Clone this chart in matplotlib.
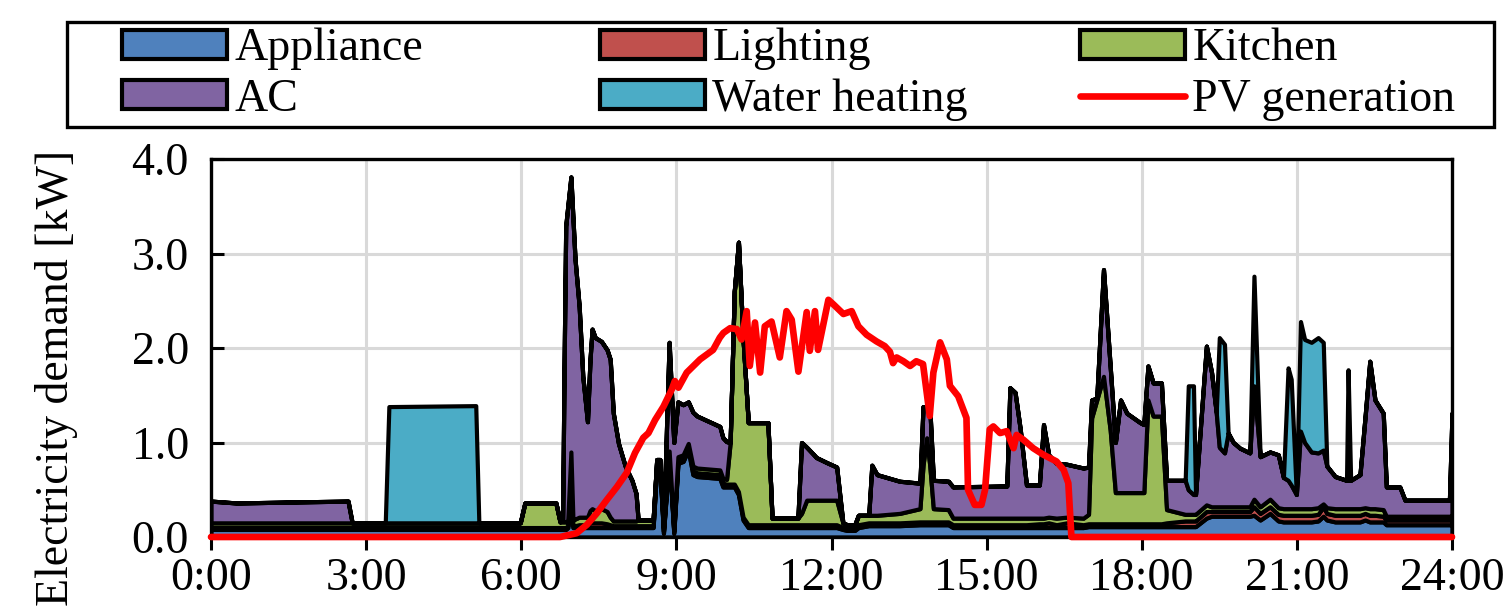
import matplotlib.pyplot as plt
import matplotlib.patches as mpatches

plt.rcParams['font.family'] = ['Liberation Serif', 'DejaVu Serif']

# time of day [h] shared by the stacked layers
hours = [0.00, 0.50, 1.50, 2.65, 2.73, 3.37, 3.44, 5.12, 5.18, 5.98,
         6.07, 6.67, 6.75, 6.80, 6.83, 6.86, 6.90, 6.96, 7.00, 7.04,
         7.12, 7.19, 7.28, 7.33, 7.37, 7.43, 7.55, 7.66, 7.72, 7.78,
         7.88, 8.01, 8.14, 8.22, 8.26, 8.55, 8.62, 8.68, 8.75, 8.86,
         8.95, 9.03, 9.13, 9.23, 9.32, 9.40, 9.84, 9.90, 9.97, 10.04,
         10.12, 10.20, 10.29, 10.39, 10.77, 10.85, 11.35, 11.42, 11.52, 11.71,
         11.90, 12.10, 12.22, 12.30, 12.45, 12.52, 12.72, 12.78, 12.88, 13.32,
         13.71, 13.77, 13.84, 13.90, 13.97, 14.26, 14.35, 15.39, 15.45, 15.55,
         15.65, 15.77, 16.02, 16.10, 16.20, 16.35, 16.55, 16.87, 16.97, 17.03,
         17.13, 17.26, 17.39, 17.49, 17.59, 17.71, 17.97, 18.04, 18.12, 18.22,
         18.38, 18.48, 18.84, 18.90, 19.00, 19.04, 19.25, 19.35, 19.44, 19.50,
         19.60, 19.67, 19.77, 19.90, 20.09, 20.17, 20.29, 20.48, 20.64, 20.74,
         20.83, 20.89, 20.99, 21.07, 21.15, 21.28, 21.41, 21.51, 21.58, 21.74,
         21.96, 21.99, 22.04, 22.22, 22.32, 22.41, 22.51, 22.67, 22.73, 22.99,
         23.09, 23.95, 24.00]

appliance = [0.08, 0.08, 0.08, 0.08, 0.08, 0.08, 0.08, 0.08, 0.08, 0.08,
             0.08, 0.08, 0.08, 0.08, 0.08, 0.08, 0.10, 0.82, 0.10, 0.10,
             0.10, 0.10, 0.10, 0.10, 0.10, 0.10, 0.10, 0.10, 0.10, 0.10,
             0.10, 0.10, 0.10, 0.10, 0.10, 0.10, 0.74, 0.74, 0.04, 0.85,
             0.04, 0.78, 0.80, 0.92, 0.66, 0.64, 0.62, 0.53, 0.53, 0.53,
             0.53, 0.45, 0.18, 0.10, 0.10, 0.10, 0.10, 0.10, 0.10, 0.10,
             0.10, 0.10, 0.08, 0.07, 0.07, 0.10, 0.12, 0.12, 0.12, 0.12,
             0.13, 0.13, 0.13, 0.13, 0.13, 0.13, 0.10, 0.10, 0.10, 0.10,
             0.10, 0.10, 0.10, 0.10, 0.10, 0.10, 0.10, 0.10, 0.11, 0.11,
             0.11, 0.11, 0.11, 0.11, 0.11, 0.11, 0.11, 0.11, 0.11, 0.11,
             0.11, 0.11, 0.11, 0.11, 0.11, 0.11, 0.20, 0.22, 0.22, 0.22,
             0.22, 0.22, 0.22, 0.22, 0.22, 0.23, 0.18, 0.25, 0.17, 0.16,
             0.16, 0.16, 0.16, 0.16, 0.16, 0.16, 0.17, 0.22, 0.18, 0.16,
             0.16, 0.16, 0.16, 0.16, 0.18, 0.16, 0.16, 0.16, 0.13, 0.13,
             0.13, 0.13, 0.13]

lighting = [0.02, 0.02, 0.02, 0.02, 0.02, 0.02, 0.02, 0.02, 0.02, 0.02,
            0.02, 0.02, 0.02, 0.02, 0.02, 0.02, 0.02, 0.02, 0.02, 0.02,
            0.03, 0.03, 0.03, 0.05, 0.05, 0.05, 0.05, 0.04, 0.03, 0.02,
            0.02, 0.02, 0.02, 0.02, 0.02, 0.02, 0.02, 0.02, 0.02, 0.02,
            0.02, 0.03, 0.03, 0.03, 0.04, 0.04, 0.04, 0.04, 0.03, 0.03,
            0.03, 0.03, 0.03, 0.03, 0.03, 0.03, 0.03, 0.03, 0.03, 0.03,
            0.03, 0.03, 0.02, 0.02, 0.02, 0.03, 0.03, 0.03, 0.03, 0.03,
            0.03, 0.03, 0.03, 0.03, 0.03, 0.03, 0.03, 0.03, 0.03, 0.03,
            0.03, 0.03, 0.04, 0.04, 0.05, 0.03, 0.05, 0.03, 0.03, 0.03,
            0.03, 0.03, 0.03, 0.03, 0.03, 0.03, 0.03, 0.03, 0.03, 0.03,
            0.03, 0.04, 0.06, 0.06, 0.06, 0.06, 0.07, 0.05, 0.05, 0.05,
            0.05, 0.05, 0.05, 0.05, 0.05, 0.09, 0.07, 0.07, 0.07, 0.07,
            0.07, 0.07, 0.07, 0.07, 0.07, 0.07, 0.07, 0.10, 0.07, 0.07,
            0.07, 0.07, 0.07, 0.07, 0.07, 0.07, 0.07, 0.06, 0.05, 0.05,
            0.05, 0.05, 0.05]

kitchen = [0.05, 0.05, 0.05, 0.05, 0.05, 0.05, 0.05, 0.05, 0.05, 0.05,
           0.26, 0.26, 0.06, 0.06, 0.06, 0.06, 0.06, 0.06, 0.06, 0.07,
           0.08, 0.08, 0.08, 0.13, 0.15, 0.13, 0.15, 0.13, 0.08, 0.05,
           0.05, 0.05, 0.05, 0.05, 0.06, 0.06, 0.06, 0.06, 0.04, 0.04,
           0.04, 0.04, 0.04, 0.04, 0.05, 0.05, 0.05, 0.05, 0.05, 0.44,
           2.04, 2.64, 1.88, 1.08, 1.08, 0.07, 0.07, 0.12, 0.26, 0.26,
           0.26, 0.26, 0.05, 0.04, 0.04, 0.10, 0.08, 0.08, 0.08, 0.10,
           0.14, 0.60, 0.89, 0.60, 0.14, 0.13, 0.07, 0.07, 0.07, 0.07,
           0.07, 0.07, 0.06, 0.06, 0.06, 0.07, 0.06, 0.07, 0.10, 1.12,
           1.31, 1.56, 0.99, 0.33, 0.33, 0.33, 0.33, 0.33, 1.31, 1.14,
           1.14, 0.14, 0.07, 0.07, 0.07, 0.07, 0.07, 0.05, 0.05, 0.05,
           0.05, 0.05, 0.05, 0.05, 0.05, 0.08, 0.07, 0.08, 0.07, 0.07,
           0.07, 0.07, 0.07, 0.07, 0.07, 0.07, 0.07, 0.03, 0.06, 0.07,
           0.07, 0.07, 0.07, 0.07, 0.06, 0.07, 0.07, 0.07, 0.04, 0.04,
           0.04, 0.04, 0.04]

ac = [0.23, 0.21, 0.22, 0.23, 0.00, 0.00, 0.00, 0.00, 0.00, 0.00,
      0.00, 0.00, 0.00, 0.02, 1.72, 3.13, 3.32, 2.91, 3.19, 2.75,
      2.23, 1.49, 1.01, 1.60, 1.90, 1.83, 1.77, 1.71, 1.67, 1.14,
      0.82, 0.58, 0.43, 0.29, 0.00, 0.00, 0.00, 0.00, 0.00, 1.15,
      0.90, 0.58, 0.53, 0.44, 0.57, 0.55, 0.46, 0.43, 0.40, 0.00,
      0.00, 0.00, 0.00, 0.00, 0.00, 0.00, 0.00, 0.75, 0.56, 0.45,
      0.40, 0.35, 0.00, 0.00, 0.00, 0.00, 0.00, 0.53, 0.43, 0.34,
      0.27, 0.62, 0.33, 0.62, 0.30, 0.30, 0.33, 0.34, 1.38, 1.33,
      0.94, 0.35, 0.35, 0.99, 0.66, 0.58, 0.56, 0.53, 0.50, 0.19,
      0.02, 1.13, 0.67, 0.53, 0.98, 0.84, 0.74, 0.72, 0.36, 0.35,
      0.35, 0.31, 0.36, 0.26, 0.21, 0.21, 1.68, 1.42, 1.00, 0.63,
      0.57, 0.78, 0.68, 0.62, 0.57, 1.20, 0.53, 0.50, 0.56, 0.33,
      0.30, 0.25, 0.15, 0.82, 0.70, 0.60, 0.58, 0.57, 0.44, 0.34,
      0.30, 0.30, 0.30, 0.36, 0.97, 1.56, 1.15, 1.02, 0.31, 0.31,
      0.17, 0.17, 1.09]

water_heating = [0, 0, 0, 0, 0, 0, 1.23, 1.24, 0, 0,
                 0, 0, 0, 0, 0, 0, 0, 0, 0, 0,
                 0, 0, 0, 0, 0, 0, 0, 0, 0, 0,
                 0, 0, 0, 0, 0, 0, 0, 0, 0, 0,
                 0, 0, 0, 0, 0, 0, 0, 0, 0, 0,
                 0, 0, 0, 0, 0, 0, 0, 0, 0, 0,
                 0, 0, 0, 0, 0, 0, 0, 0, 0, 0,
                 0, 0, 0, 0, 0, 0, 0, 0, 0, 0,
                 0, 0, 0, 0, 0, 0, 0, 0, 0, 0,
                 0, 0, 0, 0, 0, 0, 0, 0, 0, 0,
                 0, 0, 0, 1.10, 1.15, 0, 0, 0, 0, 1.16,
                 1.15, 0, 0, 0, 0, 1.16, 0, 0, 0, 0,
                 1.19, 1.12, 0, 1.16, 1.09, 1.16, 1.22, 1.14, 0, 0,
                 0, 1.17, 0, 0, 0, 0, 0, 0, 0, 0,
                 0, 0, 0]

# PV generation [kW]
pv_hours = [0.00, 6.75, 7.07, 7.27, 7.46, 7.65, 7.85, 8.04, 8.20, 8.36,
            8.46, 8.59, 8.75, 8.91, 8.97, 9.04, 9.20, 9.46, 9.71, 9.84,
            9.91, 10.04, 10.17, 10.26, 10.36, 10.42, 10.52, 10.62, 10.71, 10.84,
            11.00, 11.13, 11.23, 11.36, 11.52, 11.58, 11.68, 11.74, 11.94, 12.04,
            12.23, 12.39, 12.52, 12.68, 12.87, 13.03, 13.13, 13.19, 13.26, 13.39,
            13.52, 13.64, 13.77, 13.90, 13.97, 14.10, 14.23, 14.29, 14.45, 14.61,
            14.64, 14.77, 14.90, 14.97, 15.06, 15.13, 15.26, 15.39, 15.52, 15.58,
            15.71, 15.90, 16.10, 16.35, 16.49, 16.58, 16.64, 24.00]
pv_kw = [0.00, 0.00, 0.04, 0.13, 0.25, 0.39, 0.53, 0.68, 0.89, 1.05,
         1.10, 1.24, 1.38, 1.56, 1.65, 1.58, 1.74, 1.88, 1.98, 2.11,
         2.16, 2.21, 2.20, 2.09, 2.39, 1.81, 2.27, 1.74, 2.23, 2.28,
         1.90, 2.39, 2.30, 1.75, 2.38, 1.97, 2.39, 1.98, 2.51, 2.46,
         2.36, 2.39, 2.23, 2.14, 2.07, 2.02, 1.96, 1.84, 1.90, 1.86,
         1.81, 1.86, 1.83, 1.28, 1.74, 2.06, 1.88, 1.60, 1.49, 1.26,
         0.50, 0.34, 0.34, 0.50, 1.14, 1.17, 1.10, 1.12, 0.94, 1.08,
         1.03, 0.94, 0.87, 0.80, 0.71, 0.57, 0.00, 0.00]

layer_names = ['Appliance', 'Lighting', 'Kitchen', 'AC', 'Water heating']
layer_colors = ['#4F81BD', '#C0504D', '#9BBB59', '#8064A2', '#4BACC6']
x_ticks = list(range(0, 25, 3))
x_labels = [f"{h}:00" for h in x_ticks]
y_ticks = [0, 1, 2, 3, 4]

fig = plt.figure(figsize=(15.1, 6.15), dpi=100)
ax = fig.add_axes([211 / 1510, 1 - 537 / 615, 1241 / 1510, 378 / 615])

polys = ax.stackplot(hours, appliance, lighting, kitchen, ac, water_heating,
                     colors=layer_colors, labels=layer_names,
                     edgecolor='black', linewidth=3, zorder=2)
pv_line, = ax.plot(pv_hours, pv_kw, color='#FF0000', lw=4.8, zorder=3,
                   solid_capstyle='round', solid_joinstyle='round',
                   clip_on=False, label='PV generation')

ax.set_xlim(0, 24)
ax.set_ylim(0, 4)
ax.set_xticks(x_ticks, labels=x_labels)
ax.set_yticks(y_ticks, labels=[f"{v:.1f}" for v in y_ticks])
ax.grid(color='#D9D9D9', lw=2.2)
ax.set_axisbelow(True)
for sp in ax.spines.values():
    sp.set_linewidth(2.4)
ax.tick_params(axis='y', direction='in', length=9, width=2.2, pad=16, labelsize=33)
ax.tick_params(axis='x', direction='out', length=9, width=2.2, pad=6, labelsize=33)
ax.set_ylabel('Electricity demand [kW]', fontsize=33)
ax.yaxis.set_label_coords(-0.107, 0.42)

# legend: three columns with even spacing, one frame round them
groups = [([polys[0], polys[3]], ['Appliance', 'AC'], 122),
          ([polys[1], polys[4]], ['Lighting', 'Water heating'], 600),
          ([polys[2], pv_line], ['Kitchen', 'PV generation'], 1080)]
for hnd, lab, xpx in groups:
    fig.legend(hnd, lab, loc='upper left', bbox_to_anchor=(xpx / 1510, 1 - 28 / 615),
               frameon=False, borderpad=0, borderaxespad=0, handlelength=2.3,
               handleheight=0.58, handletextpad=0.15, labelspacing=0.17, fontsize=33)
fig.add_artist(mpatches.Rectangle((67 / 1510, 1 - 127 / 615), (1494 - 67) / 1510, 105 / 615,
                                  transform=fig.transFigure, fill=False,
                                  edgecolor='black', lw=2.4))

fig.savefig('out.png', dpi=100)
